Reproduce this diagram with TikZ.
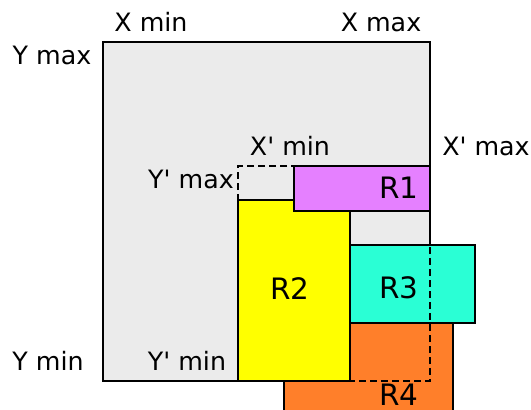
\documentclass[tikz,border=0pt]{standalone}
\usepackage{fontspec}
\newfontfamily\dvs{DejaVu Sans}
\definecolor{bgray}{HTML}{EBEBEB}
\definecolor{rone}{HTML}{E580FF}
\definecolor{rtwo}{HTML}{FFFF00}
\definecolor{rthree}{HTML}{2AFFD5}
\definecolor{rfour}{HTML}{FF7F2A}
\begin{document}
\begin{tikzpicture}[x=1pt,y=-1pt,
  box/.style={draw=black,line width=2.2pt,rectangle,inner sep=0pt,outer sep=0pt,anchor=north west},
  axis/.style={font=\dvs\fontsize{25.3}{29}\selectfont,inner sep=0pt,anchor=base},
  rlab/.style={font=\dvs\fontsize{29.5}{33}\selectfont,inner sep=0pt,anchor=base},
  dashbox/.style={draw=black,line width=2.2pt,dash pattern=on 7pt off 4pt,rectangle,inner sep=0pt,outer sep=0pt,anchor=north west}]
\clip (0,0) rectangle (531,410);
\fill[white] (0,0) rectangle (531,410);
\node[box,line width=1.6pt,fill=bgray,minimum width=327pt,minimum height=339pt] (big) at (103,42) {};
\node[box,fill=rfour,minimum width=169pt,minimum height=100pt] (r4) at (284,323) {};
\node[box,fill=rthree,minimum width=125pt,minimum height=78pt] (r3) at (350,245) {};
\node[box,fill=rtwo,minimum width=112pt,minimum height=181pt] (r2) at (238,200) {};
\node[box,fill=rone,minimum width=136pt,minimum height=45pt] (r1) at (294,166) {};
\node[dashbox,minimum width=192pt,minimum height=215pt] (clipbox) at (238,166) {};
\node[rlab] (t1) at (399,198) {R1};
\node[rlab] (t2) at (290,299) {R2};
\node[rlab] (t3) at (399,298) {R3};
\node[rlab] (t4) at (399,405) {R4};
\node[axis] (xmin) at (151,31) {X min};
\node[axis] (xmax) at (381,31) {X max};
\node[axis] (ymax) at (52,64) {Y max};
\node[axis] (ymin) at (48,370) {Y min};
\node[axis] (xpmin) at (290,155) {X' min};
\node[axis] (xpmax) at (486,155) {X' max};
\node[axis] (ypmax) at (191,188) {Y' max};
\node[axis] (ypmin) at (187,370) {Y' min};
\end{tikzpicture}
\end{document}
